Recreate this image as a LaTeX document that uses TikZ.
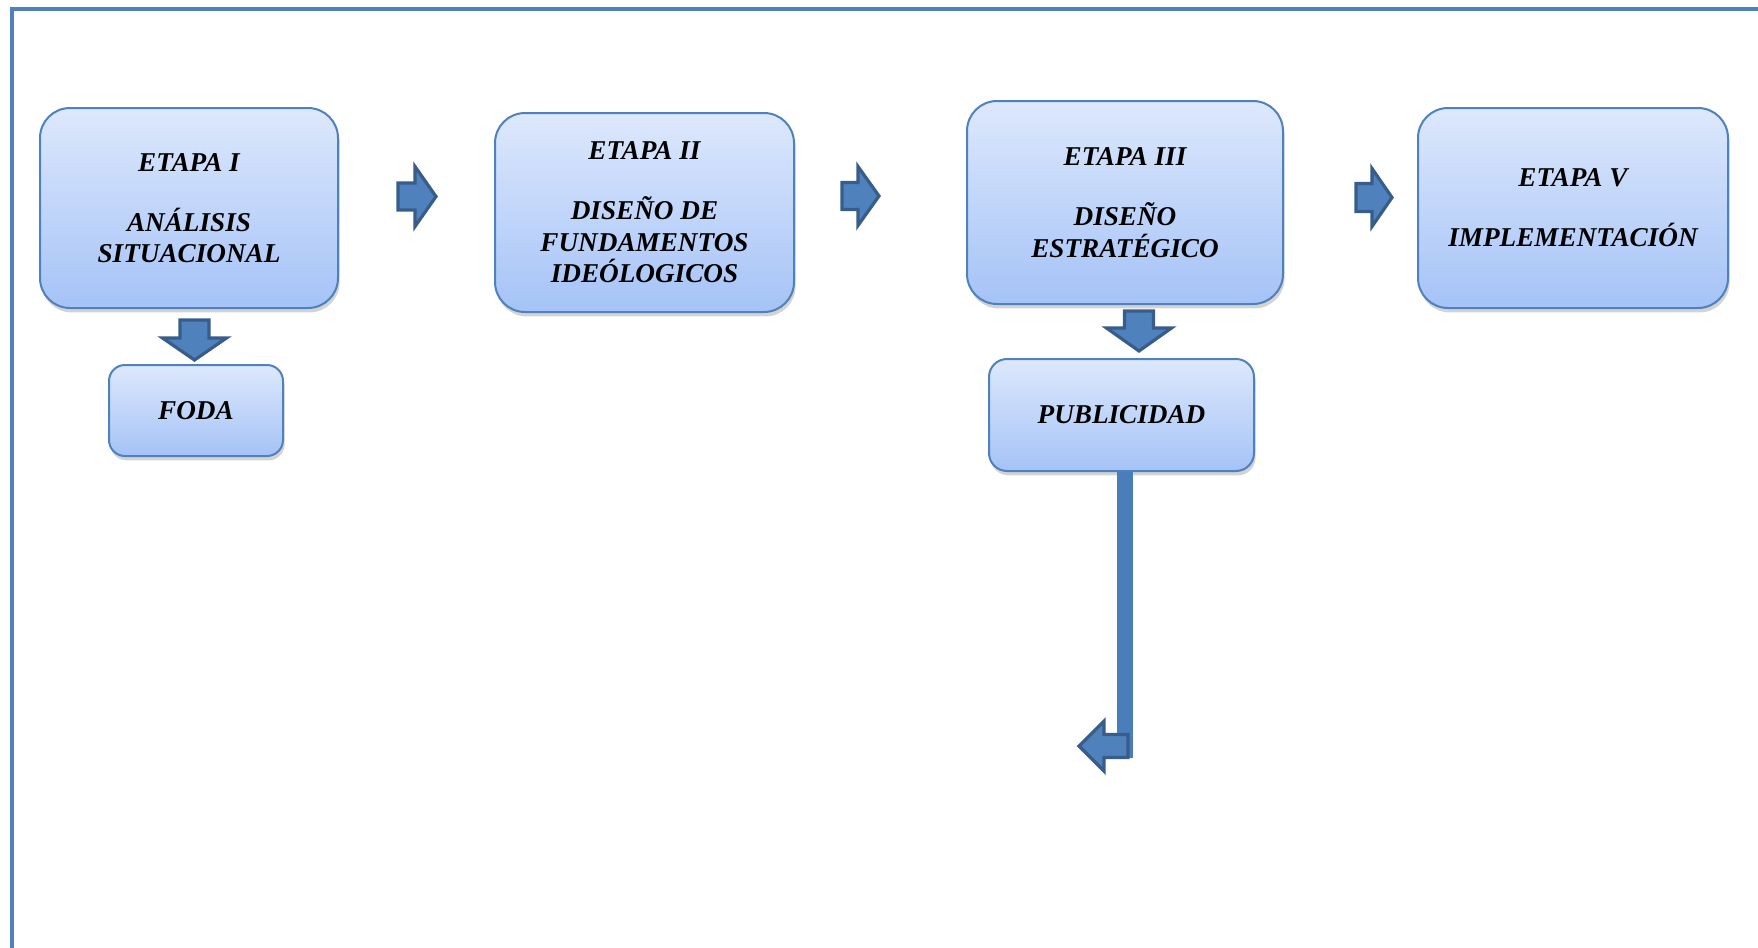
\documentclass[tikz,border=0pt]{standalone}
\usepackage{fontspec}
\setmainfont{Liberation Serif}
\usetikzlibrary{shadows}
\definecolor{cajaArriba}{HTML}{DDE8FC}
\definecolor{cajaAbajo}{HTML}{A5C3F7}
\definecolor{bordeCaja}{HTML}{4F81BD}
\definecolor{flechaRelleno}{HTML}{4F81BD}
\definecolor{flechaBorde}{HTML}{385D8A}
\definecolor{barra}{HTML}{4A7EBB}
\tikzset{
    caja/.style={draw=bordeCaja, line width=1pt, top color=cajaArriba, bottom color=cajaAbajo,
        rounded corners=15pt, align=center, inner sep=0pt,
        font=\fontsize{13.6}{15.75}\selectfont\bfseries\itshape,
        drop shadow={opacity=0.35, shadow xshift=0.8pt, shadow yshift=-2.2pt}},
    cajita/.style={caja, rounded corners=8pt},
    flecha/.style={fill=flechaRelleno, draw=flechaBorde, line width=1.6pt, line join=miter},
    marco/.style={draw=bordeCaja, line width=2pt},
    pics/bloque/.style n args={4}{code={
        \draw[flecha] (0,-#4) -- (#2,-#4) -- (#2,-#3) -- (#1,0) -- (#2,#3) -- (#2,#4) -- (0,#4) -- cycle;}}
}
\begin{document}
\begin{tikzpicture}[x=0.5pt,y=-0.5pt]
        \useasboundingbox (0,0) rectangle (1758,948);
        %% Marco
        \draw[marco] (12,960) -- (12,9) -- (1770,9);
        %% Etapas
        \node[caja, minimum width=149pt, minimum height=100pt] (e1) at (189,208)
            {ETAPA I\\[14.25pt] ANÁLISIS\\ SITUACIONAL};
        \node[caja, minimum width=149.5pt, minimum height=99.5pt] (e2) at (644.5,212.5)
            {ETAPA II\\[14.25pt] DISEÑO DE\\ FUNDAMENTOS\\ IDEÓLOGICOS};
        \node[caja, minimum width=158pt, minimum height=101.5pt] (e3) at (1125,202.5)
            {ETAPA III\\[14.25pt] DISEÑO\\ ESTRATÉGICO};
        \node[caja, minimum width=155pt, minimum height=100pt] (e5) at (1573,208)
            {ETAPA V\\[14.25pt] IMPLEMENTACIÓN};
        %% Subetapas
        \node[cajita, minimum width=87pt, minimum height=45.5pt] (foda) at (196,410.5) {FODA};
        \node[cajita, rounded corners=9pt, minimum width=132.5pt, minimum height=56pt] (pub) at (1121.5,415) {PUBLICIDAD};
        %% Flechas
        \pic at (398,196.5) {bloque={38}{17}{30}{13.5}};
        \pic at (842,196) {bloque={37}{16}{29.5}{13.5}};
        \pic at (1356,197.5) {bloque={36}{16}{29}{14}};
        \pic[rotate=-90] at (194.5,320) {bloque={40}{18}{32}{14.5}};
        \pic[rotate=-90] at (1139,311) {bloque={40}{17}{32.5}{14.5}};
        %% Salida de publicidad
        \coordinate (fin) at (1125,758);
        \draw[barra, line width=8pt] (e3.south |- pub.south) -- (e3.south |- fin);
        \pic[rotate=180] at (1128,746) {bloque={49}{24}{25}{11.5}};
    \end{tikzpicture}
\end{document}
